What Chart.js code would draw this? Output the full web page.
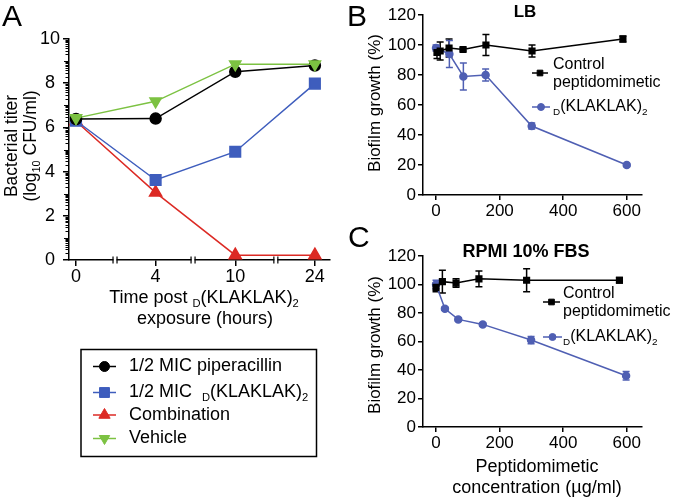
<!DOCTYPE html>
<html>
<head>
<meta charset="utf-8">
<script src="https://cdn.jsdelivr.net/npm/chart.js@4.4.0/dist/chart.umd.min.js"></script>
<style>
  html, body { margin: 0; padding: 0; background: #fff; }
  #wrap { position: relative; width: 677px; height: 499px; overflow: hidden; background: #fff; }
  canvas { position: absolute; }
  #chartA { left: 0; top: 0; width: 340px; height: 499px; }
  #chartB { left: 340px; top: 0; width: 337px; height: 250px; }
  #chartC { left: 340px; top: 215px; width: 337px; height: 284px; }
</style>
</head>
<body>
<div id="wrap">
  <canvas id="chartA" width="340" height="499"></canvas>
  <canvas id="chartB" width="337" height="250"></canvas>
  <canvas id="chartC" width="337" height="284"></canvas>
</div>
<script>
// ---- panel A: bacterial titer over time ----
const timeLabels = ['0', '4', '10', '24'];
const piperacillin = [6.38, 6.4, 8.52, 8.8];
const klaklakA = [6.3, 3.62, 4.9, 7.98];
const combination = [6.28, 3.05, 0.22, 0.22];
const vehicle = [6.42, 7.18, 8.86, 8.86];

// ---- panel B: biofilm in LB ----
const bControlConc = [3, 13, 41, 85, 157, 302, 588];
const bControl = [95, 96, 98, 97, 100, 96, 104];
const bControlErr = [4, 6, 6, 1, 7, 4, 2];
const bKlakConc = [0, 42, 86, 156, 301, 600];
const bKlak = [98, 94, 79, 80, 46, 20];
const bKlakErr = [2, 9, 9, 4, 2, 1];

// ---- panel C: biofilm in RPMI 10% FBS ----
const cControlConc = [0, 20, 63, 135, 285, 577];
const cControl = [98, 102, 101, 104, 103, 103];
const cControlErr = [3, 8, 3, 5.5, 8, 2];
const cKlakConc = [0, 28, 70, 147, 299, 598];
const cKlak = [100, 83, 75.5, 72, 61, 36];
const cKlakErr = [3, 1, 1, 1, 2.5, 3];

const FONT = "'Liberation Sans', Arial, sans-serif";
const BLUE_A = '#3e5dbd';
const RED = '#dc2a24';
const GREEN = '#7cc242';
const BLUE_BC = '#4f5fb3';

Chart.defaults.font.family = FONT;
Chart.defaults.color = '#000';

const pairs = (xs, ys) => xs.map((x, i) => ({ x, y: ys[i] }));
const byIndex = (ys) => ys.map((y, i) => ({ x: i, y }));

// text with subscripts: parts = [[text, isSub], ...]
function richText(ctx, parts, x, y, size, align = 'left', weight = '') {
  const fontFor = sub => `${weight} ${sub ? size * 0.62 : size}px ${FONT}`;
  const widths = parts.map(([t, sub]) => { ctx.font = fontFor(sub); return ctx.measureText(t).width; });
  const total = widths.reduce((a, b) => a + b, 0);
  let cx = align === 'center' ? x - total / 2 : align === 'right' ? x - total : x;
  ctx.textAlign = 'left';
  ctx.textBaseline = 'middle';
  ctx.fillStyle = '#000';
  parts.forEach(([t, sub], i) => {
    ctx.font = fontFor(sub);
    ctx.fillText(t, cx, sub ? y + size * 0.32 : y);
    cx += widths[i];
  });
}

function rotated(ctx, x, y, fn) {
  ctx.save();
  ctx.translate(x, y);
  ctx.rotate(-Math.PI / 2);
  fn();
  ctx.restore();
}

function panelLetter(ctx, letter, x, y) {
  ctx.font = `30px ${FONT}`;
  ctx.fillStyle = '#000';
  ctx.textAlign = 'left';
  ctx.textBaseline = 'alphabetic';
  ctx.fillText(letter, x, y);
}

function legendMark(ctx, x1, x2, y, color, pointStyle, radius, rotation = 0) {
  ctx.save();
  ctx.strokeStyle = color;
  ctx.fillStyle = color;
  ctx.lineWidth = 1.5;
  ctx.beginPath();
  ctx.moveTo(x1, y);
  ctx.lineTo(x2, y);
  ctx.stroke();
  ctx.lineWidth = 1;
  Chart.helpers.drawPoint(ctx, { pointStyle, radius, rotation, borderWidth: 1 }, (x1 + x2) / 2, y);
  ctx.restore();
}

const KLAK = [['D', true], ['(KLAKLAK)', false], ['2', true]];

const errorBars = {
  id: 'errorBars',
  beforeDatasetsDraw(chart) {
    const { ctx } = chart;
    const y = chart.scales.y;
    chart.data.datasets.forEach((ds, i) => {
      if (!ds.errors) return;
      const meta = chart.getDatasetMeta(i);
      ctx.save();
      ctx.strokeStyle = ds.borderColor;
      ctx.lineWidth = 1.5;
      meta.data.forEach((pt, j) => {
        const e = ds.errors[j];
        if (!e) return;
        const v = ds.data[j].y;
        const top = y.getPixelForValue(v + e);
        const bot = y.getPixelForValue(v - e);
        ctx.beginPath();
        ctx.moveTo(pt.x, top); ctx.lineTo(pt.x, bot);
        ctx.moveTo(pt.x - 3.5, top); ctx.lineTo(pt.x + 3.5, top);
        ctx.moveTo(pt.x - 3.5, bot); ctx.lineTo(pt.x + 3.5, bot);
        ctx.stroke();
      });
      ctx.restore();
    });
  }
};

const axisGrid = (len) => ({ drawOnChartArea: false, tickLength: len, color: '#000', lineWidth: 1.5 });
const axisBorder = { color: '#000', width: 1.5 };

// ---- chart A ----
const axisBreaks = [0.49, 1.47, 2.51];

const decorA = {
  id: 'decorA',
  afterDraw(chart) {
    const { ctx } = chart;
    const x = chart.scales.x, y = chart.scales.y;
    const axisY = y.getPixelForValue(0);
    const axisX = x.left + x.width * 0 + chart.chartArea.left - x.left;

    // log-style minor ticks on the y axis
    ctx.save();
    ctx.strokeStyle = '#000';
    ctx.lineWidth = 1;
    ctx.beginPath();
    for (let n = 0; n < 10; n++) {
      for (let k = 2; k <= 9; k++) {
        const py = Math.round(y.getPixelForValue(n + Math.log10(k))) + 0.5;
        ctx.moveTo(axisX, py); ctx.lineTo(axisX - 3.5, py);
      }
      if (n % 2 === 1) {
        const py = Math.round(y.getPixelForValue(n)) + 0.5;
        ctx.moveTo(axisX, py); ctx.lineTo(axisX - 5, py);
      }
    }
    ctx.stroke();

    // axis breaks
    axisBreaks.forEach(v => {
      const px = x.getPixelForValue(v);
      ctx.fillStyle = '#fff';
      ctx.fillRect(px - 1.5, axisY - 1.5, 3, 3);
      ctx.strokeStyle = '#000';
      ctx.lineWidth = 1.2;
      ctx.beginPath();
      ctx.moveTo(px - 2, axisY - 3.5); ctx.lineTo(px - 2, axisY + 3.5);
      ctx.moveTo(px + 2, axisY - 3.5); ctx.lineTo(px + 2, axisY + 3.5);
      ctx.stroke();
    });
    ctx.restore();

    panelLetter(ctx, 'A', 2, 26);

    rotated(ctx, 12, 146, () => richText(ctx, [['Bacterial titer', false]], 0, 0, 17.5, 'center'));
    rotated(ctx, 31, 146, () => richText(ctx, [['(log', false], ['10', true], [' CFU/ml)', false]], 0, 0, 17.5, 'center'));

    richText(ctx, [['Time post ', false], ...KLAK], 204, 298, 18, 'center');
    richText(ctx, [['exposure (hours)', false]], 205, 319, 18, 'center');

    // legend box
    ctx.save();
    ctx.strokeStyle = '#000';
    ctx.lineWidth = 1.5;
    ctx.strokeRect(81, 349.5, 235.5, 107);
    ctx.restore();
    const rows = [366.5, 392.5, 415, 438.5];
    chart.data.datasets.forEach((ds, i) => {
      legendMark(ctx, 93, 116, rows[i], ds.borderColor, ds.pointStyle, ds.pointRadius - 0.5, ds.pointRotation || 0);
      richText(ctx, ds.legendParts, 129, rows[i], 18);
    });
  }
};

new Chart(document.getElementById('chartA'), {
  type: 'line',
  data: {
    datasets: [
      { label: '1/2 MIC piperacillin', legendParts: [['1/2 MIC piperacillin', false]],
        data: byIndex(piperacillin), borderColor: '#000', backgroundColor: '#000',
        pointStyle: 'circle', pointRadius: 5.5, borderWidth: 1.5, order: 1, clip: false },
      { label: '1/2 MIC D(KLAKLAK)2', legendParts: [['1/2 MIC  ', false], ...KLAK],
        data: byIndex(klaklakA), borderColor: BLUE_A, backgroundColor: BLUE_A,
        pointStyle: 'rect', pointRadius: 7.5, borderWidth: 1.5, order: 2, clip: false },
      { label: 'Combination', legendParts: [['Combination', false]],
        data: byIndex(combination), borderColor: RED, backgroundColor: RED,
        pointStyle: 'triangle', pointRadius: 7, borderWidth: 1.5, order: 3, clip: false },
      { label: 'Vehicle', legendParts: [['Vehicle', false]],
        data: byIndex(vehicle), borderColor: GREEN, backgroundColor: GREEN,
        pointStyle: 'triangle', pointRotation: 180, pointRadius: 6.5, borderWidth: 1.5, order: 0, clip: false }
    ]
  },
  options: {
    responsive: false,
    animation: false,
    events: [],
    layout: { padding: { left: 0, top: 39, right: 10, bottom: 0 } },
    plugins: { legend: { display: false }, tooltip: { enabled: false } },
    scales: {
      x: {
        type: 'linear', min: -0.088, max: 3.19,
        ticks: { stepSize: 1, includeBounds: false, maxRotation: 0, padding: 0, font: { size: 18 },
          callback: v => timeLabels[v] ?? '' },
        grid: axisGrid(6),
        border: axisBorder,
        afterFit: s => { s.height = 239; }
      },
      y: {
        min: 0, max: 10,
        ticks: { stepSize: 2, crossAlign: 'center', padding: 3, font: { size: 18 } },
        grid: axisGrid(6),
        border: axisBorder,
        afterFit: s => { s.width = 69; }
      }
    }
  },
  plugins: [decorA]
});

// ---- charts B and C ----
function biofilmChart(id, cfg) {
  return new Chart(document.getElementById(id), {
    type: 'line',
    data: {
      datasets: [
        { label: 'Control peptidomimetic', data: pairs(cfg.controlConc, cfg.control), errors: cfg.controlErr,
          borderColor: '#000', backgroundColor: '#000', pointStyle: 'rect', pointRadius: 4,
          borderWidth: 1.5, order: 0, clip: false },
        { label: 'D(KLAKLAK)2', data: pairs(cfg.klakConc, cfg.klak), errors: cfg.klakErr,
          borderColor: BLUE_BC, backgroundColor: BLUE_BC, pointStyle: 'circle', pointRadius: 3.5,
          borderWidth: 1.5, order: 1, clip: false }
      ]
    },
    options: {
      responsive: false,
      animation: false,
      events: [],
      layout: { padding: { left: 0, top: cfg.top, right: 35, bottom: 0 } },
      plugins: { legend: { display: false }, tooltip: { enabled: false } },
      scales: {
        x: {
          type: 'linear', min: -41, max: 648,
          ticks: { stepSize: 200, includeBounds: false, maxRotation: 0, padding: 1, font: { size: 17 } },
          grid: axisGrid(5),
          border: axisBorder,
          afterFit: s => { s.height = cfg.xHeight; }
        },
        y: {
          min: 0, max: 120,
          ticks: { stepSize: 20, crossAlign: 'near', padding: 2, font: { size: 17 } },
          grid: axisGrid(5),
          border: axisBorder,
          afterFit: s => { s.width = 83; }
        }
      }
    },
    plugins: [errorBars, { id: 'decor' + id, afterDraw: chart => cfg.decor(chart.ctx) }]
  });
}

function biofilmLegend(ctx, lx1, lx2, tx, yControl, yKlak) {
  legendMark(ctx, lx1, lx2, yControl, '#000', 'rect', 4);
  richText(ctx, [['Control', false]], tx, yControl - 8, 16);
  richText(ctx, [['peptidomimetic', false]], tx, yControl + 10, 16);
  legendMark(ctx, lx1, lx2 + 2, yKlak, BLUE_BC, 'circle', 3.5);
  richText(ctx, KLAK, tx, yKlak, 16);
}

biofilmChart('chartB', {
  controlConc: bControlConc, control: bControl, controlErr: bControlErr,
  klakConc: bKlakConc, klak: bKlak, klakErr: bKlakErr,
  top: 15, xHeight: 55,
  decor(ctx) {
    panelLetter(ctx, 'B', 7, 26);
    richText(ctx, [['LB', false]], 185, 12, 17, 'center', 'bold');
    rotated(ctx, 35, 103, () => richText(ctx, [['Biofilm growth (%)', false]], 0, 0, 17, 'center'));
    biofilmLegend(ctx, 192, 208, 213, 73, 107);
  }
});

biofilmChart('chartC', {
  controlConc: cControlConc, control: cControl, controlErr: cControlErr,
  klakConc: cKlakConc, klak: cKlak, klakErr: cKlakErr,
  top: 41, xHeight: 72,
  decor(ctx) {
    panelLetter(ctx, 'C', 8, 32);
    richText(ctx, [['RPMI 10% FBS', false]], 186, 37, 18, 'center', 'bold');
    rotated(ctx, 35, 130, () => richText(ctx, [['Biofilm growth (%)', false]], 0, 0, 17, 'center'));
    biofilmLegend(ctx, 203, 220, 223, 87, 122);
    richText(ctx, [['Peptidomimetic', false]], 197, 252, 18, 'center');
    richText(ctx, [['concentration (\u00b5g/ml)', false]], 197, 273, 18, 'center');
  }
});
</script>
</body>
</html>
